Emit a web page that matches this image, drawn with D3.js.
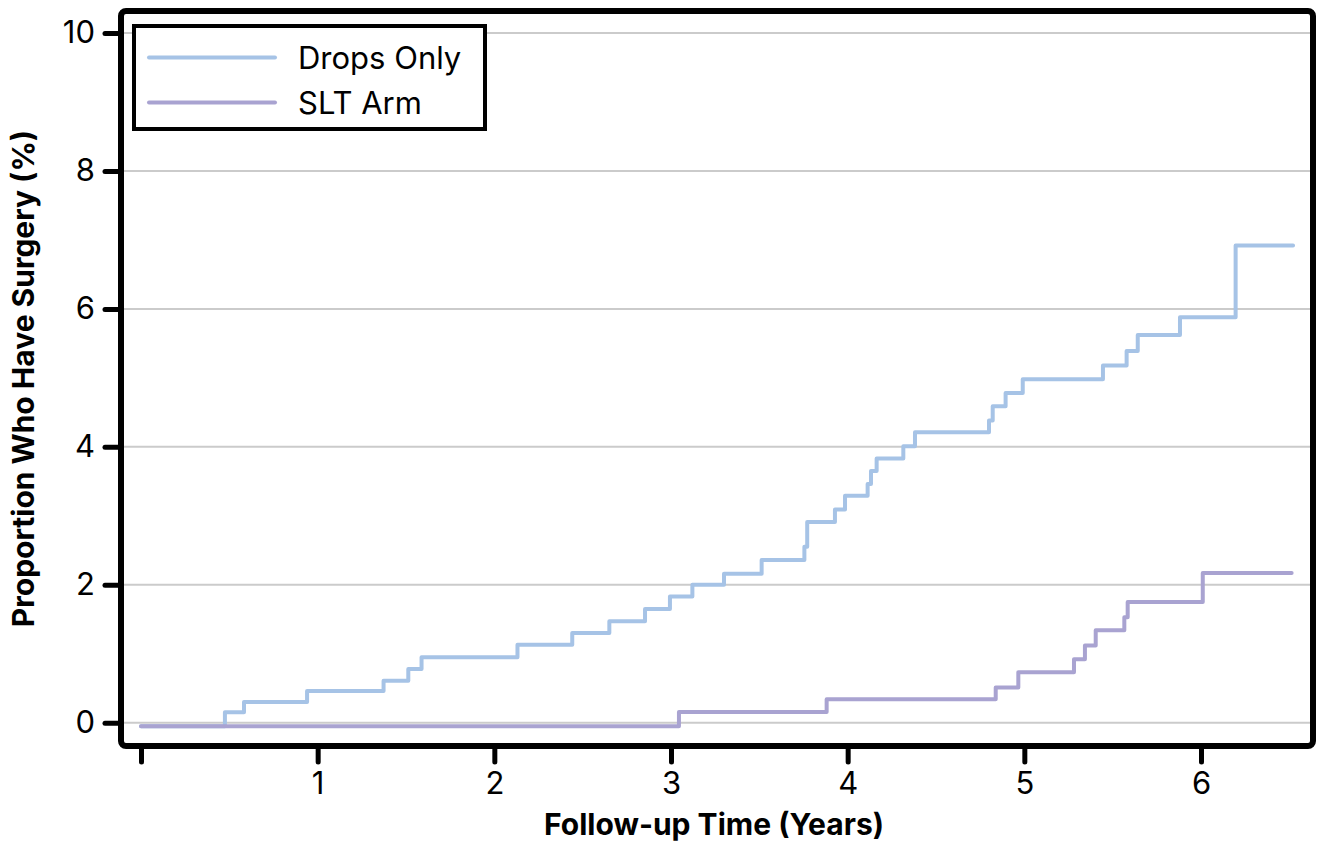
<!DOCTYPE html>
<html>
<head>
<meta charset="utf-8">
<script src="https://cdn.jsdelivr.net/npm/d3@7"></script>
<style>
    body { margin: 0; background: #fff; }
    text { font-family: Inter, "Noto Sans", sans-serif; fill: #000; }
</style>
</head>
<body>
<div id="the_chart"></div>
<script>
// step times (years) and cumulative proportion (%)
const dropsTimes = [0, 0.475, 0.583, 0.94, 1.373, 1.513, 1.588, 2.131, 2.441, 2.651, 2.853, 2.994, 3.121,
    3.30, 3.513, 3.755, 3.771, 3.928, 3.985, 4.113, 4.132, 4.164, 4.315, 4.381, 4.80, 4.821, 4.894,
    4.991, 5.445, 5.579, 5.642, 5.881, 6.196, 6.521];
const dropsValues = [-0.05, 0.15, 0.30, 0.46, 0.61, 0.78, 0.95, 1.13, 1.30, 1.47, 1.65, 1.83, 2.00,
    2.16, 2.36, 2.55, 2.91, 3.09, 3.29, 3.46, 3.65, 3.83, 4.01, 4.21, 4.38, 4.59, 4.78,
    4.98, 5.18, 5.39, 5.62, 5.88, 6.92, 6.92];

const sltTimes = [0, 3.045, 3.881, 4.838, 4.966, 5.281, 5.343, 5.404, 5.566, 5.585, 6.01, 6.513];
const sltValues = [-0.05, 0.155, 0.34, 0.51, 0.73, 0.92, 1.12, 1.34, 1.53, 1.75, 2.17, 2.17];

const seriesNames = ["Drops Only", "SLT Arm"];
const seriesColors = ["#a6c3e6", "#a9a3d1"];

const xTicks = [0, 1, 2, 3, 4, 5, 6];
const xTickLabels = ["", "1", "2", "3", "4", "5", "6"];
const yTicks = [0, 2, 4, 6, 8, 10];

var w = 1318, h = 842;
var frame = { left: 121, right: 1313, top: 11, bottom: 746 };

var xscale = d3.scaleLinear()
    .domain([0, 6])
    .range([141, 1201]);
var yscale = d3.scaleLinear()
    .domain([0, 10])
    .range([722.7, 33]);

var svg = d3.select("#the_chart")
    .append("svg")
    .attr("width", w)
    .attr("height", h);

// horizontal grid
svg.selectAll(".grid")
    .data(yTicks)
    .enter().append("line")
    .attr("class", "grid")
    .attr("x1", frame.left)
    .attr("x2", frame.right)
    .attr("y1", d => yscale(d))
    .attr("y2", d => yscale(d))
    .attr("stroke", "#cbcbcb")
    .attr("stroke-width", 2);

// curves
var series = [
    dropsTimes.map((t, i) => [t, dropsValues[i]]),
    sltTimes.map((t, i) => [t, sltValues[i]])
];
var line = d3.line()
    .curve(d3.curveStepAfter)
    .x(d => xscale(d[0]))
    .y(d => yscale(d[1]));

svg.selectAll(".curve")
    .data(series)
    .enter().append("path")
    .attr("class", "curve")
    .attr("d", line)
    .attr("fill", "none")
    .attr("stroke", (d, i) => seriesColors[i])
    .attr("stroke-width", 4)
    .attr("stroke-linecap", "round")
    .attr("stroke-linejoin", "round");

// axes
var yaxis = d3.axisLeft(yscale)
    .tickValues(yTicks)
    .tickSize(16)
    .tickPadding(10)
    .tickFormat(d3.format("d"));
svg.append("g")
    .attr("class", "yaxis")
    .attr("transform", "translate(" + frame.left + ",0)")
    .call(yaxis);

var xaxis = d3.axisBottom(xscale)
    .tickValues(xTicks)
    .tickSize(16)
    .tickPadding(10)
    .tickFormat((d, i) => xTickLabels[i]);
svg.append("g")
    .attr("class", "xaxis")
    .attr("transform", "translate(0," + frame.bottom + ")")
    .call(xaxis);

svg.selectAll(".domain").remove();
svg.selectAll(".tick line")
    .attr("stroke", "#000")
    .attr("stroke-width", 5)
    .attr("stroke-linecap", "round");
svg.selectAll(".tick text")
    .style("font-size", "31px");

// plot frame
svg.append("rect")
    .attr("x", frame.left)
    .attr("y", frame.top)
    .attr("width", frame.right - frame.left)
    .attr("height", frame.bottom - frame.top)
    .attr("rx", 5)
    .attr("fill", "none")
    .attr("stroke", "#000")
    .attr("stroke-width", 6);

// axis titles
svg.append("text")
    .attr("x", (frame.left + frame.right) / 2 - 3)
    .attr("y", 835)
    .attr("text-anchor", "middle")
    .style("font-size", "30px")
    .style("font-weight", "bold")
    .text("Follow-up Time (Years)");

svg.append("text")
    .attr("transform", "translate(34," + (frame.top + frame.bottom) / 2 + ") rotate(-90)")
    .attr("text-anchor", "middle")
    .style("font-size", "30px")
    .style("font-weight", "bold")
    .text("Proportion Who Have Surgery (%)");

// legend
var legend = svg.append("g");
legend.append("rect")
    .attr("x", 134)
    .attr("y", 26)
    .attr("width", 351)
    .attr("height", 103)
    .attr("fill", "#fff")
    .attr("stroke", "#000")
    .attr("stroke-width", 4);

var items = legend.selectAll(".item")
    .data(seriesNames)
    .enter().append("g")
    .attr("class", "item")
    .attr("transform", (d, i) => "translate(0," + (57.5 + i * 45) + ")");
items.append("line")
    .attr("x1", 149)
    .attr("x2", 275)
    .attr("stroke", (d, i) => seriesColors[i])
    .attr("stroke-width", 4)
    .attr("stroke-linecap", "round");
items.append("text")
    .attr("x", 298)
    .attr("y", 11)
    .style("font-size", "31px")
    .text(d => d);
</script>
</body>
</html>
